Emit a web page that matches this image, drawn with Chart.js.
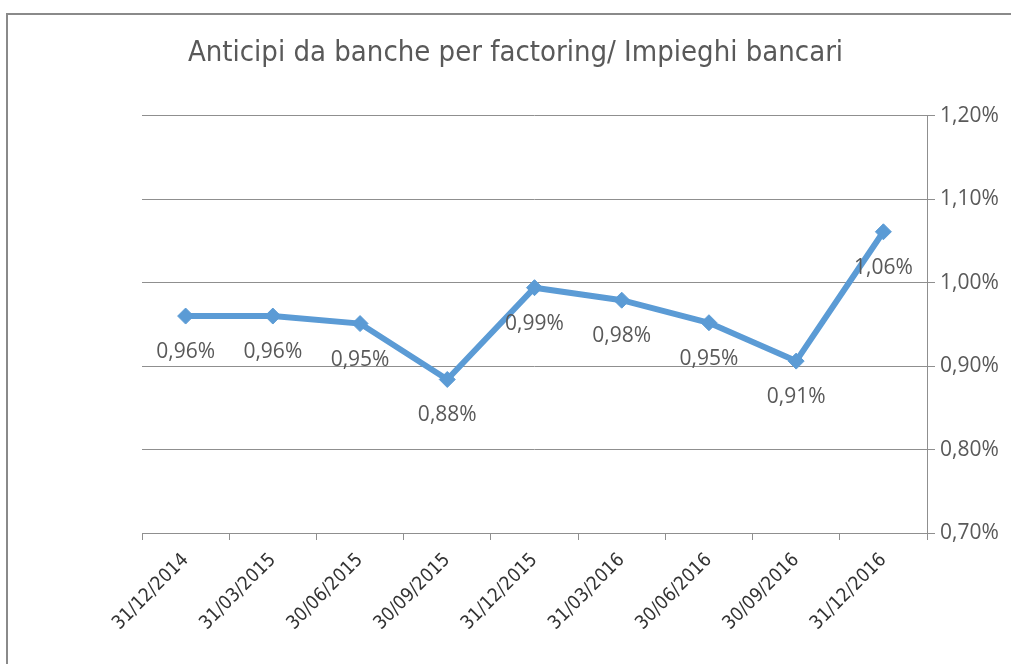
<!DOCTYPE html>
<html>
<head>
<meta charset="utf-8">
<script src="https://cdn.jsdelivr.net/npm/chart.js@4"></script>
<style>
  body { margin: 0; background: #fff; }
  #wrap { position: relative; width: 1011px; height: 664px; overflow: hidden; }
  #grafico { position: absolute; left: 0; top: 0; }
  #bordo { position: absolute; left: 6px; top: 13px; width: 1100px; height: 700px;
           border-top: 2px solid #8a8a8a; border-left: 2px solid #8a8a8a; pointer-events: none; }
</style>
</head>
<body>
<div id="wrap">
  <canvas id="grafico" width="1011" height="664"></canvas>
  <div id="bordo"></div>
</div>
<script>
// Dati del grafico
const titolo = 'Anticipi da banche per factoring/ Impieghi bancari';
const date = ['31/12/2014', '31/03/2015', '30/06/2015', '30/09/2015', '31/12/2015',
              '31/03/2016', '30/06/2016', '30/09/2016', '31/12/2016'];
const valori = [0.960, 0.960, 0.951, 0.884, 0.994, 0.979, 0.952, 0.906, 1.061];
const assey = { min: 0.70, max: 1.20, passo: 0.10 };

// Formatta una percentuale all'italiana (virgola decimale)
function formatoPerc(v) {
    return v.toFixed(2).replace('.', ',') + '%';
}

// Plugin per le etichette sotto i punti
const etichettePunti = {
    id: 'etichettePunti',
    afterDatasetsDraw(chart) {
        const ctx = chart.ctx;
        const meta = chart.getDatasetMeta(0);
        ctx.save();
        ctx.font = '21px "Open Sans", sans-serif';
        ctx.fillStyle = '#595959';
        ctx.textAlign = 'center';
        ctx.textBaseline = 'middle';
        meta.data.forEach((pt, i) => {
            ctx.fillText(formatoPerc(valori[i]), pt.x, pt.y + 36);
        });
        ctx.restore();
    }
};

const ctx = document.getElementById('grafico').getContext('2d');
new Chart(ctx, {
    type: 'line',
    data: {
        labels: date,
        datasets: [{
            data: valori,
            borderColor: '#5B9BD5',
            backgroundColor: '#5B9BD5',
            borderWidth: 6,
            pointStyle: 'rectRot',
            pointRadius: 8,
            pointBorderWidth: 1,
            pointBackgroundColor: '#5B9BD5',
            tension: 0,
            yAxisID: 'y'
        }]
    },
    options: {
        responsive: false,
        animation: false,
        layout: { padding: { left: 20, right: 0, top: 0, bottom: 0 } },
        plugins: {
            legend: { display: false },
            tooltip: { enabled: false },
            title: {
                display: true,
                text: titolo,
                color: '#595959',
                font: { family: '"Liberation Sans Narrow", "DejaVu Sans Condensed", sans-serif', size: 29, weight: 'normal' },
                padding: { top: 36, bottom: 45 }
            }
        },
        scales: {
            x: {
                offset: true,
                grid: { display: true, drawOnChartArea: false, drawTicks: true, tickLength: 7, color: '#8f8f8f', offset: true },
                border: { color: '#8f8f8f', width: 1 },
                ticks: {
                    color: '#333333',
                    font: { family: '"DejaVu Sans Condensed", "Open Sans", sans-serif', size: 19 },
                    minRotation: 45, maxRotation: 45, padding: 9, autoSkip: false
                },
                afterFit(s) { s.height = 131; }
            },
            y: {
                position: 'right',
                min: assey.min, max: assey.max,
                grid: { color: '#8f8f8f', tickLength: 8 },
                border: { color: '#8f8f8f' },
                ticks: {
                    stepSize: assey.passo,
                    color: '#595959',
                    font: { family: '"Open Sans", sans-serif', size: 21 },
                    padding: 5,
                    callback: v => formatoPerc(v)
                },
                afterFit(s) { s.width = 84; }
            },
            sx: {
                position: 'left',
                display: true,
                grid: { display: false },
                border: { display: false },
                ticks: { display: false },
                afterFit(s) { s.width = 122; }
            }
        }
    },
    plugins: [etichettePunti]
});
</script>
</body>
</html>
